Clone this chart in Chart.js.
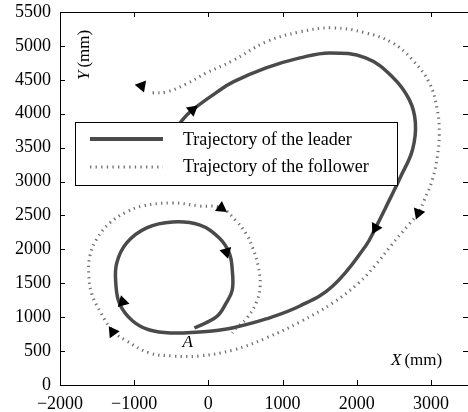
<!DOCTYPE html>
<html lang="en">
<head>
<meta charset="UTF-8">
<title>Leader / follower trajectories</title>
<style>
  html, body { margin: 0; padding: 0; background: #fff; overflow: hidden; }
  #wrap { width: 475px; height: 412px; }
</style>
</head>
<body>
<div id="wrap"><canvas id="chart" width="475" height="412"></canvas></div>
<script src="https://cdn.jsdelivr.net/npm/chart.js"></script>
<script>
// leader path (mm), from start (behind legend) to end near A
const leaderX = [-497, -349, -215, 120, 335, 778, 1234, 1637, 2120, 2482, 2710, 2791, 2751, 2590, 2388, 2254, 2120, 1677, 1234, 778, 322, 53, -121, -484, -792, -1020, -1195, -1248, -1235, -1101, -832, -484, -121, 147, 281, 322, 322, 241, 107, -188];
const leaderY = [3688, 3909, 4056, 4322, 4469, 4676, 4823, 4897, 4823, 4543, 4204, 3865, 3466, 3068, 2611, 2316, 2050, 1460, 1165, 974, 841, 797, 782, 767, 811, 944, 1195, 1505, 1800, 2095, 2316, 2404, 2360, 2168, 1947, 1696, 1401, 1210, 1003, 841];

// follower path (mm)
const followerX = [-752, -564, -296, -27, 322, 778, 1234, 1677, 2120, 2482, 2751, 2979, 3086, 3113, 3086, 3019, 2912, 2831, 2697, 2469, 2254, 2026, 1677, 1234, 778, 335, -121, -484, -792, -1101, -1289, -1463, -1571, -1611, -1597, -1503, -1329, -1101, -886, -484, -121, 174, 375, 510, 603, 671, 698, 644, 510, 375, 322];
const followerY = [4307, 4322, 4440, 4602, 4779, 5059, 5207, 5266, 5192, 5045, 4794, 4455, 4056, 3717, 3363, 3024, 2729, 2537, 2360, 2065, 1770, 1505, 1210, 929, 693, 516, 428, 428, 472, 649, 797, 1092, 1342, 1608, 1903, 2154, 2390, 2552, 2640, 2685, 2640, 2611, 2419, 2227, 2006, 1755, 1460, 1210, 974, 841, 767];

// direction arrows: position (mm) and heading (deg, clockwise from up)
const leaderArrowX = [-215, 2254, -1154, 241];
const leaderArrowY = [4056, 2316, 1224, 1962];
const leaderArrowRot = [51, 208, -15, 165];
const followerArrowX = [-900, 174, 2831, -1289];
const followerArrowY = [4410, 2611, 2537, 782];
const followerArrowRot = [-80, 125, 200, -35];

const xTickVals = [-2000, -1000, 0, 1000, 2000, 3000];
const yTickVals = [0, 500, 1000, 1500, 2000, 2500, 3000, 3500, 4000, 4500, 5000, 5500];
const pointA = { x: -280, y: 620 };

const serif = '"Liberation Serif", "Times New Roman", serif';
const leaderColor = '#4a4a4a';
const followerColor = '#707070';

function toPts(xs, ys) {
    return xs.map((x, i) => ({ x: x, y: ys[i] }));
}

function fmt(v) {
    return v < 0 ? '\u2212' + Math.abs(v) : String(v);
}

const framePlugin = {
    id: 'frame',
    beforeDatasetsDraw(chart) {
        const { ctx, chartArea: a, scales } = chart;
        ctx.save();
        ctx.strokeStyle = '#000';
        ctx.lineWidth = 1;
        ctx.strokeRect(a.left + 0.5, a.top + 0.5, a.right - a.left, a.bottom - a.top);
        ctx.beginPath();
        scales.x.ticks.forEach(t => {
            const px = Math.round(scales.x.getPixelForValue(t.value)) + 0.5;
            ctx.moveTo(px, a.bottom); ctx.lineTo(px, a.bottom - 5);
            ctx.moveTo(px, a.top); ctx.lineTo(px, a.top + 5);
        });
        scales.y.ticks.forEach(t => {
            const py = Math.round(scales.y.getPixelForValue(t.value)) + 0.5;
            ctx.moveTo(a.left, py); ctx.lineTo(a.left + 5, py);
            ctx.moveTo(a.right, py); ctx.lineTo(a.right - 5, py);
        });
        ctx.stroke();
        ctx.restore();
    },
    afterDatasetsDraw(chart) {
        const { ctx, chartArea: a, scales } = chart;
        ctx.save();
        ctx.fillStyle = '#000';

        // point A
        ctx.font = 'italic 17px ' + serif;
        ctx.textAlign = 'center';
        ctx.textBaseline = 'middle';
        ctx.fillText('A', scales.x.getPixelForValue(pointA.x), scales.y.getPixelForValue(pointA.y));

        // x axis title, inside the plot
        ctx.textAlign = 'left';
        let tx = a.left + 331, ty = a.bottom - 24;
        ctx.font = 'italic 17px ' + serif;
        ctx.fillText('X', tx, ty);
        tx += ctx.measureText('X').width + 3;
        ctx.font = '17px ' + serif;
        ctx.fillText('(mm)', tx, ty);

        // y axis title, rotated
        ctx.save();
        ctx.translate(a.left + 25, a.top + 68);
        ctx.rotate(-Math.PI / 2);
        ctx.font = 'italic 17px ' + serif;
        ctx.fillText('Y', 0, 0);
        const w = ctx.measureText('Y').width + 3;
        ctx.font = '17px ' + serif;
        ctx.fillText('(mm)', w, 0);
        ctx.restore();

        // legend box
        const lx = a.left + 15, ly = a.top + 110, lw = 322, lh = 63;
        ctx.fillStyle = '#fff';
        ctx.fillRect(lx, ly, lw, lh);
        ctx.strokeStyle = '#000';
        ctx.lineWidth = 1;
        ctx.strokeRect(lx + 0.5, ly + 0.5, lw, lh);

        ctx.strokeStyle = leaderColor;
        ctx.lineWidth = 4;
        ctx.beginPath();
        ctx.moveTo(lx + 15, ly + 17); ctx.lineTo(lx + 88, ly + 17);
        ctx.stroke();

        ctx.strokeStyle = followerColor;
        ctx.lineWidth = 3;
        ctx.setLineDash([1.3, 4.3]);
        ctx.beginPath();
        ctx.moveTo(lx + 15, ly + 45); ctx.lineTo(lx + 88, ly + 45);
        ctx.stroke();
        ctx.setLineDash([]);

        ctx.fillStyle = '#000';
        ctx.font = '18px ' + serif;
        ctx.textBaseline = 'middle';
        ctx.fillText('Trajectory of the leader', lx + 108, ly + 18);
        ctx.fillText('Trajectory of the follower', lx + 108, ly + 45);
        ctx.restore();
    }
};

new Chart(document.getElementById('chart'), {
    type: 'scatter',
    data: {
        datasets: [
            {
                label: 'Leader arrows',
                data: toPts(leaderArrowX, leaderArrowY),
                pointStyle: 'triangle',
                pointRotation: leaderArrowRot,
                pointRadius: 7,
                backgroundColor: '#000',
                borderColor: '#000',
                borderWidth: 0,
                showLine: false,
                order: 0
            },
            {
                label: 'Follower arrows',
                data: toPts(followerArrowX, followerArrowY),
                pointStyle: 'triangle',
                pointRotation: followerArrowRot,
                pointRadius: 7,
                backgroundColor: '#000',
                borderColor: '#000',
                borderWidth: 0,
                showLine: false,
                order: 0
            },
            {
                label: 'Trajectory of the leader',
                data: toPts(leaderX, leaderY),
                showLine: true,
                borderColor: leaderColor,
                borderWidth: 3.5,
                pointRadius: 0,
                tension: 0.4,
                order: 1
            },
            {
                label: 'Trajectory of the follower',
                data: toPts(followerX, followerY),
                showLine: true,
                borderColor: followerColor,
                borderWidth: 3,
                borderDash: [1.3, 4.3],
                borderCapStyle: 'butt',
                pointRadius: 0,
                tension: 0.4,
                order: 2
            }
        ]
    },
    options: {
        responsive: false,
        animation: false,
        layout: { padding: { top: 12, right: 2, left: 0, bottom: 0 } },
        plugins: {
            legend: { display: false },
            tooltip: { enabled: false }
        },
        scales: {
            x: {
                type: 'linear',
                min: -2000,
                max: 3500,
                grid: { display: false, drawTicks: false },
                border: { display: false },
                ticks: {
                    autoSkip: false,
                    maxRotation: 0,
                    padding: 8,
                    color: '#000',
                    font: { family: serif, size: 18 },
                    callback: fmt
                },
                afterBuildTicks(s) { s.ticks = xTickVals.map(v => ({ value: v })); },
                afterFit(s) { s.height = 27; s.paddingLeft = 0; s.paddingRight = 0; }
            },
            y: {
                type: 'linear',
                min: 0,
                max: 5500,
                grid: { display: false, drawTicks: false },
                border: { display: false },
                ticks: {
                    autoSkip: false,
                    padding: 9,
                    color: '#000',
                    font: { family: serif, size: 18 },
                    callback: fmt
                },
                afterBuildTicks(s) { s.ticks = yTickVals.map(v => ({ value: v })); },
                afterFit(s) { s.width = 60; s.paddingTop = 0; s.paddingBottom = 0; }
            }
        }
    },
    plugins: [framePlugin]
});
</script>
</body>
</html>
